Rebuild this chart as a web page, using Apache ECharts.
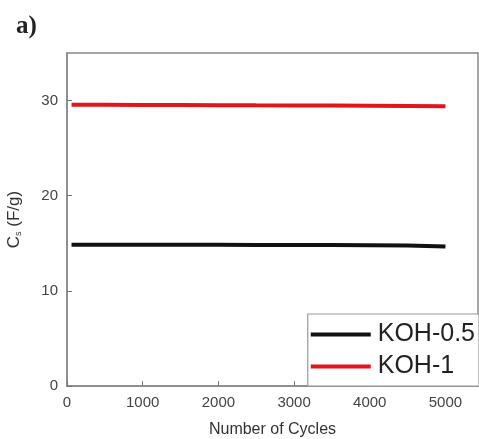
<!DOCTYPE html>
<html><head><meta charset="utf-8">
<script src="https://cdn.jsdelivr.net/npm/echarts@6/dist/echarts.min.js"></script>
<style>html,body{margin:0;padding:0;background:#fff}#c{width:479px;height:439px}</style>
</head><body><div id="c"></div>
<script>
const cycles = [60, 500, 1000, 1500, 2000, 2500, 3000, 3500, 4000, 4500, 5000];
const koh05 = [14.85, 14.85, 14.85, 14.84, 14.84, 14.83, 14.83, 14.82, 14.8, 14.77, 14.65];
const koh1 = [29.55, 29.55, 29.54, 29.53, 29.52, 29.5, 29.49, 29.47, 29.45, 29.43, 29.4];
const seriesNames = ['KOH-0.5', 'KOH-1'];
const seriesColors = ['#111111', '#e3141b'];
const xTicks = [0, 1000, 2000, 3000, 4000, 5000];
const yTicks = [0, 10, 20, 30];

const chart = echarts.init(document.getElementById('c'), null, {renderer: 'canvas'});
const font = 'Liberation Sans, Arial, sans-serif';
chart.setOption({
  animation: false,
  backgroundColor: '#fff',
  title: {text: 'a)', left: 11, top: 9, textStyle: {fontFamily: 'Liberation Serif, serif', fontWeight: 'bold', fontSize: 25, color: '#222'}},
  grid: {left: 67, right: 1, top: 53, bottom: 53, show: true, borderColor: '#888', borderWidth: 1.5, containLabel: false, outerBoundsMode: 'none'},
  xAxis: {
    type: 'value', min: 0, max: 5430, interval: 1000,
    name: 'Number of Cycles', nameLocation: 'middle', nameGap: 36,
    nameTextStyle: {fontFamily: font, fontSize: 16, color: '#333'},
    axisLine: {lineStyle: {color: '#888', width: 1.5}},
    axisTick: {inside: true, length: 5, lineStyle: {color: '#777'}},
    axisLabel: {fontFamily: font, fontSize: 15, color: '#444', margin: 9, showMaxLabel: false,
      formatter: v => xTicks.includes(v) ? String(v) : ''},
    splitLine: {show: false}
  },
  yAxis: {
    type: 'value', min: 0, max: 35, interval: 10,
    name: '{a|C}{s|s}{a| (F/g)}', nameLocation: 'middle', nameGap: 44, nameRotate: 90,
    nameTextStyle: {rich: {a: {fontFamily: font, fontSize: 17, color: '#333'}, s: {fontFamily: font, fontSize: 9, color: '#333', verticalAlign: 'bottom', padding: [8, 0, 0, 0]}}},
    axisLine: {lineStyle: {color: '#888', width: 1.5}},
    axisTick: {inside: true, length: 5, lineStyle: {color: '#777'}},
    axisLabel: {fontFamily: font, fontSize: 15, color: '#444', margin: 9, showMaxLabel: false,
      formatter: v => yTicks.includes(v) ? String(v) : ''},
    splitLine: {show: false}
  },
  legend: {
    orient: 'vertical', right: 0, bottom: 53,
    data: seriesNames,
    icon: 'rect', itemWidth: 60, itemHeight: 4, itemGap: 7,
    padding: [8, 4, 7, 3],
    backgroundColor: '#fff', borderColor: '#999', borderWidth: 1.2,
    textStyle: {fontFamily: font, fontSize: 25, color: '#222', padding: [0, 0, 0, 2]}
  },
  series: [
    {name: seriesNames[0], type: 'line', showSymbol: false, color: seriesColors[0], lineStyle: {width: 4, color: seriesColors[0]}, data: cycles.map((c, i) => [c, koh05[i]]), z: 3},
    {name: seriesNames[1], type: 'line', showSymbol: false, color: seriesColors[1], lineStyle: {width: 4, color: seriesColors[1]}, data: cycles.map((c, i) => [c, koh1[i]]), z: 3}
  ]
});
</script></body></html>
